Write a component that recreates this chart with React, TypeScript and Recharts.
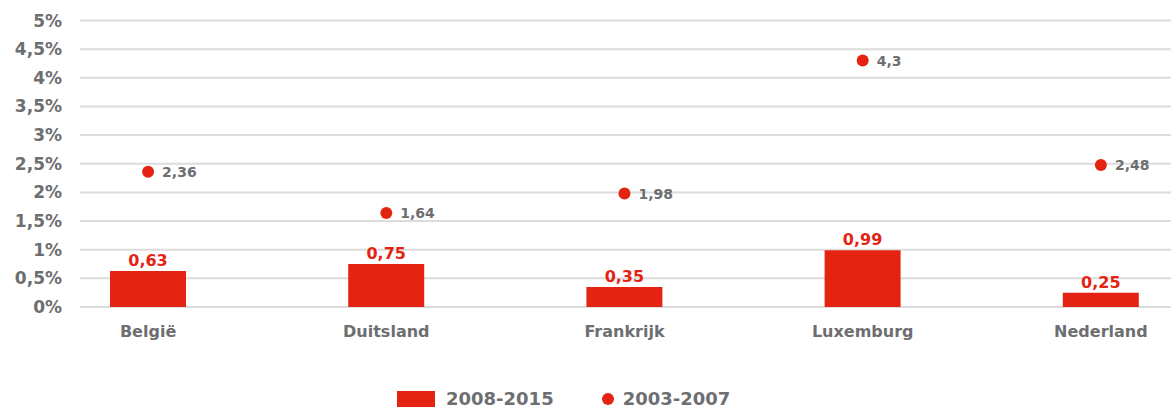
import {
  ComposedChart,
  Bar,
  Line,
  XAxis,
  YAxis,
  CartesianGrid,
  Legend,
  LabelList,
} from 'recharts'

const countries = ['België', 'Duitsland', 'Frankrijk', 'Luxemburg', 'Nederland']
const period2008to2015 = [0.63, 0.75, 0.35, 0.99, 0.25]
const period2003to2007 = [2.36, 1.64, 1.98, 4.3, 2.48]
const yTicks = [0, 0.5, 1, 1.5, 2, 2.5, 3, 3.5, 4, 4.5, 5]

const RED = '#e42313'
const GRAY = '#6d6e71'
const FONT = '"DejaVu Sans", sans-serif'

const data = countries.map((country, i) => ({
  country,
  recent: period2008to2015[i],
  earlier: period2003to2007[i],
}))

const fmt = (v: number | string) => String(v).replace('.', ',')

function LegendContent() {
  return (
    <div
      style={{
        display: 'flex',
        alignItems: 'center',
        fontFamily: FONT,
        fontWeight: 'bold',
        fontSize: 18,
        color: GRAY,
        paddingLeft: 397,
      }}
    >
      <span style={{ width: 38, height: 16, background: RED, marginRight: 11 }} />
      <span>2008-2015</span>
      <span
        style={{
          width: 12,
          height: 12,
          borderRadius: 6,
          background: RED,
          marginLeft: 48,
          marginRight: 9,
        }}
      />
      <span>2003-2007</span>
    </div>
  )
}

export default function App() {
  return (
    <div style={{ position: 'absolute', left: 0, top: 0, width: 1171, height: 410 }}>
      <ComposedChart
        width={1171}
        height={410}
        data={data}
        margin={{ top: 20.5, right: 0, left: 0, bottom: 0 }}
      >
        <CartesianGrid vertical={false} stroke="#dcdcdc" strokeWidth={2} />
        <XAxis
          dataKey="country"
          axisLine={false}
          tickLine={false}
          tickMargin={13}
          height={82}
          padding={{ left: -51, right: -49 }}
          tick={{ fill: GRAY, fontFamily: FONT, fontWeight: 'bold', fontSize: 16 }}
          interval={0}
        />
        <YAxis
          domain={[0, 5]}
          ticks={yTicks}
          width={80}
          axisLine={false}
          tickLine={false}
          tickMargin={12}
          tickFormatter={(v: number) => `${fmt(v)}%`}
          tick={{ fill: GRAY, fontFamily: FONT, fontWeight: 'bold', fontSize: 17 }}
        />
        <Legend
          verticalAlign="bottom"
          content={<LegendContent />}
          wrapperStyle={{ bottom: 1, left: 0, width: 1171 }}
        />
        <Bar dataKey="recent" name="2008-2015" fill={RED} barSize={76} isAnimationActive={false}>
          <LabelList
            dataKey="recent"
            position="top"
            offset={5}
            formatter={fmt}
            fill={RED}
            fontFamily={FONT}
            fontWeight="bold"
            fontSize={16}
          />
        </Bar>
        <Line
          dataKey="earlier"
          name="2003-2007"
          stroke="none"
          dot={{ r: 6, fill: RED, stroke: 'none' }}
          activeDot={false}
          isAnimationActive={false}
        >
          <LabelList
            dataKey="earlier"
            position="right"
            offset={14}
            formatter={fmt}
            fill={GRAY}
            fontFamily={FONT}
            fontWeight="bold"
            fontSize={14}
          />
        </Line>
      </ComposedChart>
    </div>
  )
}
